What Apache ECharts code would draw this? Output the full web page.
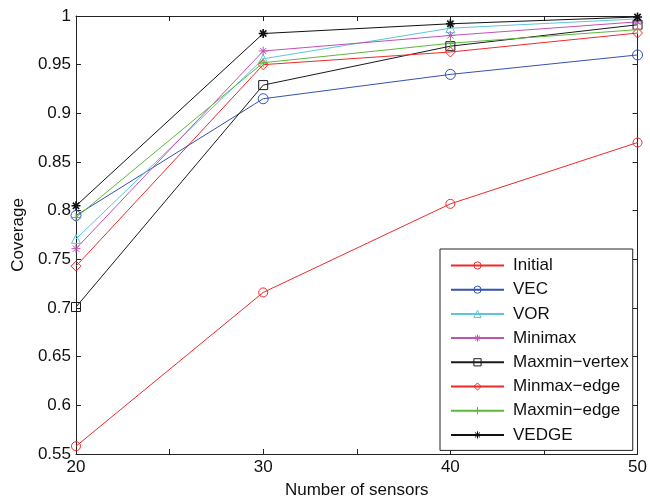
<!DOCTYPE html>
<html>
<head>
<meta charset="utf-8">
<script src="https://cdn.jsdelivr.net/npm/echarts@6/dist/echarts.min.js"></script>
<style>
  html, body { margin: 0; padding: 0; background: #fff; }
  #chart { width: 650px; height: 504px; }
</style>
</head>
<body>
<div id="chart"></div>
<script>
// Number of sensors on the x axis
const sensors = [20, 30, 40, 50];

// Coverage per method
const initial      = [0.558, 0.716, 0.807, 0.870];
const vec          = [0.795, 0.915, 0.940, 0.960];
const vor          = [0.771, 0.956, 0.9875, 0.997];
const minimax      = [0.761, 0.964, 0.980, 0.994];
const maxminVertex = [0.701, 0.929, 0.969, 0.991];
const minmaxEdge   = [0.743, 0.950, 0.963, 0.9825];
const maxminEdge   = [0.793, 0.952, 0.972, 0.986];
const vedge        = [0.805, 0.982, 0.992, 0.999];

// Axis tick settings
const xTicks = { min: 20, max: 50, step: 5, labelStep: 10 };
const yTicks = { min: 0.55, max: 1, step: 0.05 };

const FONT = 'Liberation Sans, Arial, Helvetica, sans-serif';
const ASTERISK = 'path://M5 0L5 10M0 5L10 5M1.5 1.5L8.5 8.5M1.5 8.5L8.5 1.5';
const PLUS = 'path://M5 0L5 10M0 5L10 5';
const HOLLOW = 'rgba(255,255,255,0)';

// Outline markers are drawn as plain shapes with a transparent face
const methods = [
  { name: 'Initial',        values: initial,      color: '#ee2a2a', symbol: 'circle',   size: 9,  hollow: true },
  { name: 'VEC',            values: vec,          color: '#3552ad', symbol: 'circle',   size: 10, hollow: true },
  { name: 'VOR',            values: vor,          color: '#5cc6dc', symbol: 'triangle', size: 9,  hollow: true },
  { name: 'Minimax',        values: minimax,      color: '#c052b4', symbol: ASTERISK,   size: 9,  hollow: false },
  { name: 'Maxmin\u2212vertex', values: maxminVertex, color: '#1a1a1a', symbol: 'rect', size: 9,  hollow: true },
  { name: 'Minmax\u2212edge',   values: minmaxEdge,   color: '#ee2a2a', symbol: 'diamond', size: 10, hollow: true },
  { name: 'Maxmin\u2212edge',   values: maxminEdge,   color: '#5cb83a', symbol: PLUS,     size: 9,  hollow: false },
  { name: 'VEDGE',          values: vedge,        color: '#111111', symbol: ASTERISK,   size: 9,  hollow: false }
];

const series = methods.map(m => ({
  name: m.name,
  type: 'line',
  xAxisIndex: 0,
  yAxisIndex: 0,
  data: sensors.map((s, i) => [s, m.values[i]]),
  symbol: m.symbol,
  symbolSize: m.size,
  showAllSymbol: true,
  lineStyle: { color: m.color, width: 1 },
  itemStyle: {
    color: m.hollow ? HOLLOW : m.color,
    borderColor: m.color,
    borderWidth: m.name === 'VEDGE' ? 1.6 : 1
  },
  emphasis: { disabled: true },
  animation: false
}));

const tickStyle = { inside: true, length: 5, lineStyle: { color: '#222', width: 1 } };
const lineStyle = { lineStyle: { color: '#222', width: 1 } };

const chart = echarts.init(document.getElementById('chart'), null, { renderer: 'canvas' });
chart.setOption({
  backgroundColor: '#fff',
  animation: false,
  grid: { left: 76, right: 10, top: 16, bottom: 44, containLabel: false },
  legend: {
    orient: 'vertical',
    left: 440,
    top: 249,
    padding: [8, 4, 7, 10],
    itemWidth: 53,
    itemHeight: 9,
    itemGap: 7.2,
    itemStyle: { borderWidth: 1 },
    borderColor: '#222',
    borderWidth: 1,
    backgroundColor: '#fff',
    textStyle: { fontFamily: FONT, fontSize: 17, color: '#111', lineHeight: 17, padding: [0, 0, 0, 4] },
    data: methods.map(m => m.name)
  },
  xAxis: [
    {
      type: 'value', position: 'bottom',
      min: xTicks.min, max: xTicks.max, interval: xTicks.step,
      name: 'Number of sensors', nameLocation: 'middle', nameGap: 28,
      nameTextStyle: { fontFamily: FONT, fontSize: 17, color: '#111' },
      axisLine: lineStyle, axisTick: tickStyle,
      axisLabel: {
        fontFamily: FONT, fontSize: 17, color: '#111', margin: 5,
        formatter: v => (v % xTicks.labelStep === 0 ? String(v) : '')
      },
      splitLine: { show: false }
    },
    {
      type: 'value', position: 'top',
      min: xTicks.min, max: xTicks.max, interval: xTicks.step,
      axisLine: lineStyle, axisTick: tickStyle,
      axisLabel: { show: false }, splitLine: { show: false }
    }
  ],
  yAxis: [
    {
      type: 'value', position: 'left',
      min: yTicks.min, max: yTicks.max, interval: yTicks.step,
      name: 'Coverage', nameLocation: 'middle', nameGap: 49,
      nameTextStyle: { fontFamily: FONT, fontSize: 17, color: '#111' },
      axisLine: lineStyle, axisTick: tickStyle,
      axisLabel: {
        fontFamily: FONT, fontSize: 17, color: '#111', margin: 5,
        formatter: v => String(+v.toFixed(2))
      },
      splitLine: { show: false }
    },
    {
      type: 'value', position: 'right',
      min: yTicks.min, max: yTicks.max, interval: yTicks.step,
      axisLine: lineStyle, axisTick: tickStyle,
      axisLabel: { show: false }, splitLine: { show: false }
    }
  ],
  series: series
});
</script>
</body>
</html>
